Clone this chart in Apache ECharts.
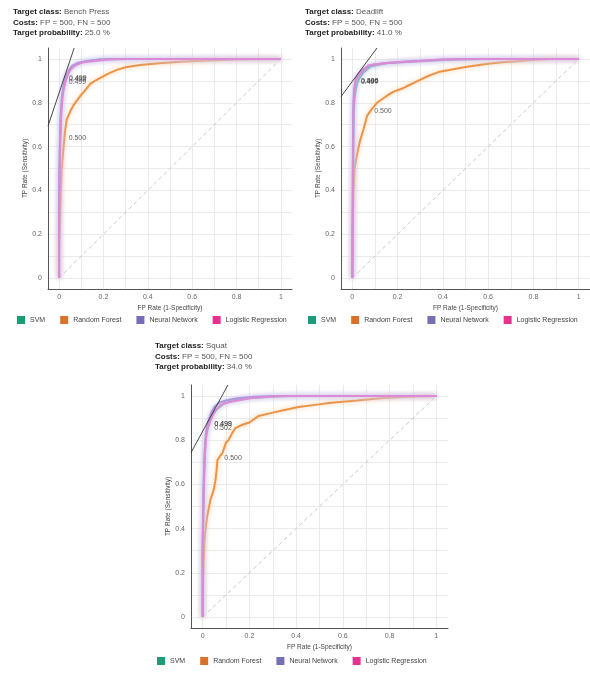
<!DOCTYPE html>
<html>
<head>
<meta charset="utf-8">
<script src="https://cdn.jsdelivr.net/npm/echarts@6/dist/echarts.min.js"></script>
<style>
html, body { margin: 0; padding: 0; background: #fff; }
#main { width: 590px; height: 677px; }
</style>
</head>
<body>
<div id="main"></div>
<script>
var chartDom = document.getElementById('main');
var myChart = echarts.init(chartDom);
var option;

var models = ['SVM', 'Random Forest', 'Neural Network', 'Logistic Regression'];
var legendColors = ['#1b9e77', '#d9722b', '#7570b3', '#e3338f'];
var lineColors = ['#4cb8a0', '#ec9348', '#978dd2', '#dc8ad8'];
var haloColors = ['#a0e0cc', '#f9c896', '#cbc4f2', '#f2bcef'];

var gridTicks = [0, 0.1, 0.2, 0.3, 0.4, 0.5, 0.6, 0.7, 0.8, 0.9, 1];
var labelTicks = [0, 0.2, 0.4, 0.6, 0.8, 1];

// Bench Press
var benchSvm = [[0,0],[0,0.35],[0.004,0.6],[0.008,0.75],[0.015,0.84],[0.025,0.89],[0.035,0.92],[0.05,0.95],[0.07,0.97],[0.1,0.985],[0.15,0.993],[0.22,1],[1,1]];
var benchRf = [[0,0],[0,0.15],[0.005,0.3],[0.008,0.4],[0.012,0.5],[0.02,0.6],[0.028,0.68],[0.035,0.726],[0.05,0.76],[0.064,0.787],[0.08,0.81],[0.095,0.83],[0.12,0.86],[0.14,0.886],[0.17,0.905],[0.215,0.93],[0.26,0.95],[0.3,0.962],[0.365,0.972],[0.45,0.98],[0.56,0.988],[0.7,0.994],[0.8,0.998],[1,1]];
var benchNn = [[0,0],[0,0.4],[0.003,0.6],[0.007,0.74],[0.012,0.82],[0.02,0.88],[0.03,0.92],[0.045,0.95],[0.06,0.97],[0.08,0.98],[0.12,0.99],[0.18,0.997],[0.25,1],[1,1]];
var benchLr = [[0,0],[0,0.3],[0.003,0.5],[0.006,0.65],[0.01,0.75],[0.015,0.82],[0.02,0.86],[0.03,0.9],[0.04,0.93],[0.05,0.95],[0.065,0.965],[0.08,0.975],[0.11,0.985],[0.15,0.99],[0.21,0.996],[0.3,1],[1,1]];
var benchIso = [[-0.05,0.694],[0.068,1.05]];
var benchLabels = [[0.034,0.91,'0.498'],[0.036,0.912,'0.499'],[0.034,0.893,'0.499'],[0.034,0.64,'0.500']];

// Deadlift
var deadSvm = [[0,0],[0.004,0.5],[0.006,0.75],[0.01,0.82],[0.015,0.86],[0.022,0.89],[0.03,0.91],[0.05,0.94],[0.08,0.965],[0.15,0.98],[0.3,0.99],[0.45,0.998],[0.6,1],[1,1]];
var deadRf = [[0,0],[0,0.1],[0.002,0.25],[0.005,0.4],[0.01,0.5],[0.02,0.56],[0.026,0.59],[0.035,0.63],[0.05,0.68],[0.065,0.74],[0.085,0.77],[0.109,0.8],[0.15,0.83],[0.18,0.85],[0.22,0.865],[0.25,0.88],[0.29,0.9],[0.33,0.92],[0.38,0.94],[0.44,0.952],[0.5,0.963],[0.59,0.977],[0.66,0.985],[0.73,0.99],[0.8,0.995],[0.87,1],[1,1]];
var deadNn = [[0,0],[0.002,0.5],[0.004,0.78],[0.008,0.86],[0.015,0.91],[0.03,0.935],[0.05,0.955],[0.08,0.972],[0.15,0.982],[0.25,0.99],[0.4,0.997],[0.55,1],[1,1]];
var deadLr = [[0,0],[0.003,0.5],[0.005,0.75],[0.007,0.82],[0.013,0.895],[0.025,0.92],[0.043,0.94],[0.07,0.97],[0.1,0.975],[0.145,0.98],[0.2,0.985],[0.29,0.99],[0.4,0.997],[0.5,1],[1,1]];
var deadIso = [[-0.05,0.828],[0.109,1.05]];
var deadLabels = [[0.028,0.9,'0.496'],[0.03,0.9,'0.506'],[0.029,0.895,'0.497'],[0.088,0.76,'0.500']];

// Squat
var squatSvm = [[0,0],[0,0.3],[0.005,0.6],[0.01,0.75],[0.015,0.82],[0.025,0.87],[0.04,0.91],[0.06,0.94],[0.09,0.965],[0.13,0.98],[0.2,0.99],[0.3,0.998],[0.4,1],[1,1]];
var squatRf = [[0,0],[0,0.1],[0.004,0.25],[0.008,0.35],[0.012,0.4],[0.02,0.46],[0.033,0.53],[0.047,0.575],[0.055,0.62],[0.06,0.67],[0.063,0.71],[0.075,0.73],[0.084,0.74],[0.1,0.79],[0.11,0.8],[0.125,0.83],[0.14,0.855],[0.17,0.87],[0.2,0.88],[0.24,0.91],[0.3,0.925],[0.34,0.935],[0.41,0.95],[0.48,0.96],[0.55,0.97],[0.66,0.98],[0.76,0.99],[0.88,0.997],[1,1]];
var squatNn = [[0,0],[0,0.35],[0.004,0.6],[0.008,0.74],[0.013,0.83],[0.022,0.88],[0.035,0.92],[0.05,0.95],[0.07,0.97],[0.1,0.98],[0.15,0.99],[0.22,0.997],[0.3,1],[1,1]];
var squatLr = [[0,0],[0,0.3],[0.004,0.55],[0.008,0.7],[0.013,0.8],[0.02,0.85],[0.034,0.89],[0.05,0.93],[0.077,0.96],[0.11,0.972],[0.15,0.98],[0.2,0.99],[0.25,0.995],[0.35,1],[1,1]];
var squatIso = [[-0.05,0.744],[0.108,1.05]];
var squatLabels = [[0.041,0.872,'0.499'],[0.042,0.874,'0.498'],[0.041,0.857,'0.502'],[0.084,0.72,'0.500']];

var panels = [
    { cls: 'Bench Press', prob: '25.0 %', curves: [benchSvm, benchRf, benchNn, benchLr], iso: benchIso, labels: benchLabels,
      title: { left: 13, top: 7 }, grid: { left: 48, top: 48, width: 244, height: 241 }, legend: { left: 17, top: 316 } },
    { cls: 'Deadlift', prob: '41.0 %', curves: [deadSvm, deadRf, deadNn, deadLr], iso: deadIso, labels: deadLabels,
      title: { left: 305, top: 7 }, grid: { left: 341, top: 48, width: 250, height: 241 }, legend: { left: 308, top: 316 } },
    { cls: 'Squat', prob: '34.0 %', curves: [squatSvm, squatRf, squatNn, squatLr], iso: squatIso, labels: squatLabels,
      title: { left: 155, top: 341 }, grid: { left: 191, top: 385, width: 257, height: 243 }, legend: { left: 157, top: 657 } }
];

var font = 'Liberation Sans, Arial, sans-serif';
var drawOrder = [1, 0, 2, 3];

var titles = [], grids = [], xAxes = [], yAxes = [], legends = [], series = [];

panels.forEach(function (p, i) {
    titles.push({
        left: p.title.left, top: p.title.top, padding: 0,
        text: '{b|Target class:} ' + p.cls + '\n{b|Costs:} FP = 500, FN = 500\n{b|Target probability:} ' + p.prob,
        textStyle: {
            fontFamily: font, fontSize: 8, fontWeight: 'normal', color: '#555', lineHeight: 10.5,
            rich: { b: { fontFamily: font, fontSize: 8, fontWeight: 'bold', color: '#222', lineHeight: 10.5 } }
        }
    });
    grids.push({ left: p.grid.left, top: p.grid.top, width: p.grid.width, height: p.grid.height });
    var axisCommon = {
        type: 'value', gridIndex: i, min: -0.05, max: 1.05, nameLocation: 'middle',
        nameTextStyle: { fontFamily: font, fontSize: 6.5, color: '#444' },
        axisLine: { show: true, onZero: false, lineStyle: { color: '#555', width: 1 } },
        axisTick: { show: false, customValues: gridTicks },
        axisLabel: { customValues: labelTicks, fontFamily: font, fontSize: 7, color: '#666' },
        splitLine: { show: true, lineStyle: { color: '#e6e6e6', width: 0.8 } }
    };
    xAxes.push(Object.assign({}, axisCommon, { name: 'FP Rate (1-Specificity)', nameGap: 16,
        axisLabel: Object.assign({}, axisCommon.axisLabel, { margin: 5 }) }));
    yAxes.push(Object.assign({}, axisCommon, { name: 'TP Rate (Sensitivity)', nameGap: 16,
        axisLabel: Object.assign({}, axisCommon.axisLabel, { margin: 6 }) }));
    legends.push({
        left: p.legend.left, top: p.legend.top, width: 300, padding: 0, data: models, icon: 'rect',
        itemWidth: 8, itemHeight: 8, itemGap: 15, selectedMode: false,
        textStyle: { fontFamily: font, fontSize: 7, color: '#444' }
    });

    series.push({
        type: 'line', name: 'diagonal', xAxisIndex: i, yAxisIndex: i, silent: true,
        data: [[0, 0], [1, 1]], showSymbol: false,
        lineStyle: { color: '#bbb', width: 0.8, type: [4, 3] }
    });
    drawOrder.forEach(function (m) {
        series.push({
            type: 'line', name: models[m], xAxisIndex: i, yAxisIndex: i,
            data: p.curves[m], showSymbol: false, silent: true,
            itemStyle: { color: legendColors[m] },
            lineStyle: { color: lineColors[m], width: 2, shadowColor: haloColors[m], shadowBlur: 5 }
        });
    });
    series.push({
        type: 'line', name: 'iso', xAxisIndex: i, yAxisIndex: i, silent: true,
        data: p.iso, showSymbol: false,
        lineStyle: { color: '#333', width: 0.9 }
    });
    series.push({
        type: 'scatter', name: 'thresholds', xAxisIndex: i, yAxisIndex: i, silent: true,
        symbolSize: 0,
        data: p.labels.map(function (d) { return { value: [d[0], d[1]], name: d[2] }; }),
        label: { show: true, position: 'right', distance: 2, formatter: '{b}',
                 fontFamily: font, fontSize: 7, color: '#333' }
    });
});

option = {
    backgroundColor: '#fff',
    animation: false,
    title: titles,
    grid: grids,
    xAxis: xAxes,
    yAxis: yAxes,
    legend: legends,
    series: series
};

option && myChart.setOption(option);
</script>
</body>
</html>
